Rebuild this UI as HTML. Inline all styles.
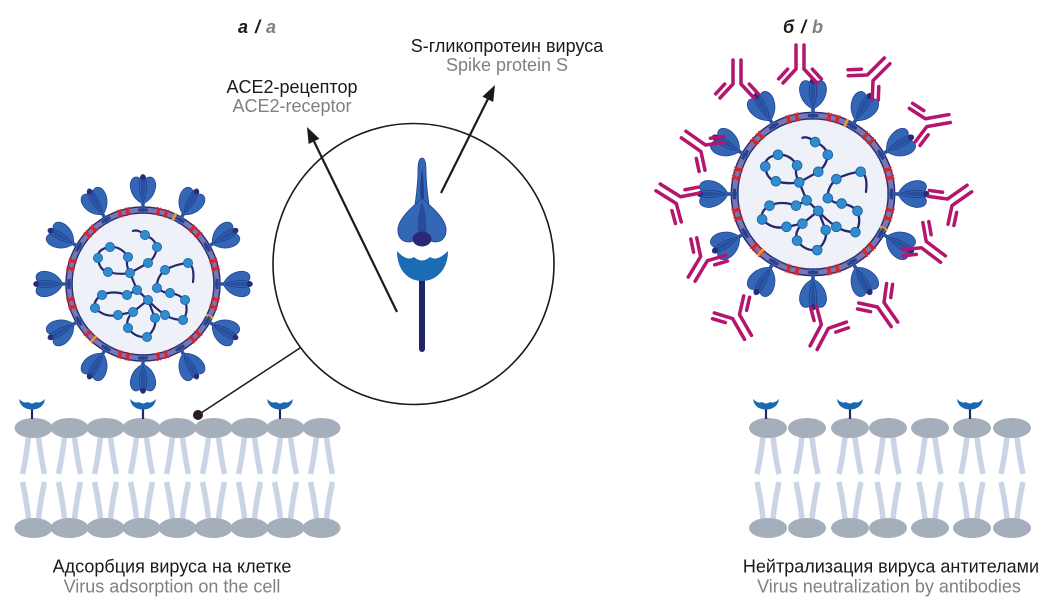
<!DOCTYPE html>
<html><head><meta charset="utf-8"><style>
html,body{margin:0;padding:0;background:#fff}
svg{display:block}
text{font-family:"Liberation Sans","Noto Sans CJK SC",sans-serif;font-size:18px}
</style></head><body>
<svg width="1053" height="603" viewBox="0 0 1053 603" xmlns="http://www.w3.org/2000/svg">
<defs>
 <g id="spike">
  <rect x="-1.7" y="-86" width="3.4" height="16" fill="#2c55a5"/>
  <path d="M-5,-74 L5,-74" stroke="#27428f" stroke-width="3"/>
  <path d="M0,-80 C-6,-83 -11,-88 -12.5,-96 C-13.5,-102 -11,-107 -7,-107 C-5,-107 -3.5,-106 -3,-105 C-2.5,-108 -1.2,-109.5 0,-109.5 C1.2,-109.5 2.5,-108 3,-105 C3.5,-106 5,-107 7,-107 C11,-107 13.5,-102 12.5,-96 C11,-88 6,-83 0,-80Z" fill="#3366b5" stroke="#22428f" stroke-width="0.7"/>
  <path d="M-3,-104 C-4,-96 -3,-88 0,-82 M3,-104 C4,-96 3,-88 0,-82" fill="none" stroke="#22428f" stroke-width="0.9"/>
  <path d="M0,-84 C-2,-90 -2.5,-98 -1.8,-104 L1.8,-104 C2.5,-98 2,-90 0,-84Z" fill="#2850a0"/>
  <ellipse cx="0" cy="-106.5" rx="3" ry="2.6" fill="#2c2a7a"/>
 </g>
 <g id="mark"><path d="M-6,-78 L-2,-70 M-2,-78 L-6,-70 M2,-78 L6,-70 M6,-78 L2,-70" stroke="#d22630" stroke-width="2.2" fill="none"/></g>
 <g id="orng"><path d="M0,-78 L0,-70" stroke="#e99a2e" stroke-width="2.6"/></g>
 <g id="virus">
  <circle r="72" fill="#eef2f8"/>
  <circle r="74" fill="none" stroke="#2b2a6c" stroke-width="7.5"/>
  <circle r="74" fill="none" stroke="#7678b6" stroke-width="4.8"/>
  <use href="#mark" transform="rotate(15)"/><use href="#mark" transform="rotate(45)"/>
  <use href="#mark" transform="rotate(75)"/><use href="#mark" transform="rotate(105)"/>
  <use href="#mark" transform="rotate(135)"/><use href="#mark" transform="rotate(165)"/>
  <use href="#mark" transform="rotate(195)"/><use href="#mark" transform="rotate(225)"/>
  <use href="#mark" transform="rotate(255)"/><use href="#mark" transform="rotate(285)"/>
  <use href="#mark" transform="rotate(315)"/><use href="#mark" transform="rotate(345)"/>
  <use href="#orng" transform="rotate(25)"/><use href="#orng" transform="rotate(116)"/><use href="#orng" transform="rotate(222)"/>
  <use href="#spike"/><use href="#spike" transform="rotate(30)"/>
  <use href="#spike" transform="rotate(60)"/><use href="#spike" transform="rotate(90)"/>
  <use href="#spike" transform="rotate(120)"/><use href="#spike" transform="rotate(150)"/>
  <use href="#spike" transform="rotate(180)"/><use href="#spike" transform="rotate(210)"/>
  <use href="#spike" transform="rotate(240)"/><use href="#spike" transform="rotate(270)"/>
  <use href="#spike" transform="rotate(300)"/><use href="#spike" transform="rotate(330)"/>
  <g fill="none" stroke="#29286e" stroke-width="2.2" stroke-linejoin="round" stroke-linecap="round">
   <path d="M-10,-53 Q-5,-55 2,-49 Q12,-45 14,-37 Q13,-27 5,-21 L-13,-11 Q-18,-20 -15,-27 Q-22,-38 -33,-37 Q-46,-35 -45,-26 Q-44,-14 -35,-12 Q-24,-9 -13,-11"/>
   <path d="M50,-2 Q52,-18 45,-21 Q33,-20 22,-14 Q13,-6 14,4 Q20,9 27,9 Q36,10 42,16 Q46,28 40,36 Q30,36 22,31 Q12,24 5,16 L-6,6 L-13,-11"/>
   <path d="M-6,6 L-16,11 Q-30,6 -41,11 Q-50,16 -48,24 Q-38,34 -25,31 L-10,28 L5,16"/>
   <path d="M-10,28 Q-18,36 -15,44 Q-8,54 4,53 Q14,44 12,34 L5,16"/>
  </g>
  <g fill="#2f8ccf" stroke="#1e5fa0" stroke-width="0.8">
   <circle cx="2" cy="-49" r="4.6"/><circle cx="14" cy="-37" r="4.6"/><circle cx="5" cy="-21" r="4.6"/>
   <circle cx="-13" cy="-11" r="4.6"/><circle cx="-15" cy="-27" r="4.6"/><circle cx="-33" cy="-37" r="4.6"/>
   <circle cx="-45" cy="-26" r="4.6"/><circle cx="-35" cy="-12" r="4.6"/><circle cx="45" cy="-21" r="4.6"/>
   <circle cx="22" cy="-14" r="4.6"/><circle cx="14" cy="4" r="4.6"/><circle cx="-6" cy="6" r="4.6"/>
   <circle cx="-16" cy="11" r="4.6"/><circle cx="-41" cy="11" r="4.6"/><circle cx="-48" cy="24" r="4.6"/>
   <circle cx="-25" cy="31" r="4.6"/><circle cx="27" cy="9" r="4.6"/><circle cx="42" cy="16" r="4.6"/>
   <circle cx="40" cy="36" r="4.6"/><circle cx="22" cy="31" r="4.6"/><circle cx="5" cy="16" r="4.6"/>
   <circle cx="-10" cy="28" r="4.6"/><circle cx="12" cy="34" r="4.6"/><circle cx="-15" cy="44" r="4.6"/>
   <circle cx="4" cy="53" r="4.6"/>
  </g>
 </g>
 <g id="ab" fill="none" stroke="#b3156f" stroke-width="3.5" stroke-linecap="round" stroke-linejoin="round">
  <path d="M-4,-20 L-4,4 L-17,18 M4,-20 L4,4 L17,18 M-12.3,4.1 L-21.4,13.9 M12.3,4.1 L21.4,13.9"/>
 </g>
 <g id="lip">
  <g fill="none" stroke="#cad4e6" stroke-width="5.5">
   <path d="M-5,437 Q-7,455 -11,474"/><path d="M5,437 Q7,455 11,474"/>
   <path d="M-11,482 Q-7,500 -5,519"/><path d="M11,482 Q7,500 5,519"/>
  </g>
  <ellipse cx="0" cy="428" rx="19" ry="10" fill="#a5aebb"/>
  <ellipse cx="0" cy="528" rx="19" ry="10" fill="#a5aebb"/>
 </g>
 <g id="rec">
  <rect x="-1.1" y="8" width="2.2" height="12" fill="#1f2a66"/>
  <path d="M-13,0 Q-8,5 -4,3 Q0,6 4,3 Q8,5 13,0 C12,7 7,10.5 0,10.5 C-7,10.5 -12,7 -13,0Z" fill="#1b67b1"/>
 </g>
</defs>

<!-- left membrane -->
<use href="#lip" x="33.5"/><use href="#lip" x="69.5"/><use href="#lip" x="105.5"/>
<use href="#lip" x="141.5"/><use href="#lip" x="177.5"/><use href="#lip" x="213.5"/>
<use href="#lip" x="249.5"/><use href="#lip" x="285.5"/><use href="#lip" x="321.5"/>
<use href="#rec" transform="translate(32,399)"/>
<use href="#rec" transform="translate(143,399)"/>
<use href="#rec" transform="translate(280,399)"/>

<!-- right membrane -->
<use href="#lip" x="768"/><use href="#lip" x="807"/><use href="#lip" x="850"/>
<use href="#lip" x="888"/><use href="#lip" x="930"/><use href="#lip" x="972"/><use href="#lip" x="1012"/>
<use href="#rec" transform="translate(766,399)"/>
<use href="#rec" transform="translate(850,399)"/>
<use href="#rec" transform="translate(970,399)"/>

<!-- viruses -->
<use href="#virus" transform="translate(143,284)"/>
<use href="#virus" transform="translate(813,194) scale(1.06)"/>

<!-- antibodies -->
<use href="#ab" transform="translate(800,65) rotate(0)"/>
<use href="#ab" transform="translate(737,80) rotate(0)"/>
<use href="#ab" transform="translate(873,75) rotate(45)"/>
<use href="#ab" transform="translate(930,122) rotate(80)"/>
<use href="#ab" transform="translate(953,200) rotate(55)"/>
<use href="#ab" transform="translate(927,247) rotate(127)"/>
<use href="#ab" transform="translate(883,308) rotate(145)"/>
<use href="#ab" transform="translate(823,330) rotate(208)"/>
<use href="#ab" transform="translate(738,320) rotate(150)"/>
<use href="#ab" transform="translate(702,262) rotate(211)"/>
<use href="#ab" transform="translate(675,198) rotate(-58)"/>
<use href="#ab" transform="translate(700,146) rotate(-55)"/>

<!-- magnifier -->
<circle cx="413.5" cy="264" r="140.5" fill="none" stroke="#1a1a1a" stroke-width="1.6"/>
<line x1="300" y1="348" x2="198" y2="415" stroke="#1a1a1a" stroke-width="1.5"/>
<circle cx="198" cy="415" r="5" fill="#2a1d1d"/>

<!-- arrows -->
<line x1="397" y1="312" x2="314" y2="141.4" stroke="#1a1a1a" stroke-width="2.2"/>
<polygon points="307,127 319.4,138.8 308.6,144" fill="#1a1a1a"/>
<line x1="441" y1="193" x2="487.8" y2="99.3" stroke="#1a1a1a" stroke-width="2.2"/>
<polygon points="495,85 493.2,102 482.4,96.6" fill="#1a1a1a"/>

<!-- big spike -->
<path d="M422,158 C419,158 418,163 418,170 C418,185 416,198 414,212 L430,212 C428,198 426,185 426,170 C426,163 425,158 422,158Z" fill="#3467b6" stroke="#22428f" stroke-width="0.8"/>
<path d="M422,168 C420,180 420,195 421,212 L424,212 C424,195 424,180 422,168Z" fill="#243d8c"/>
<path d="M422,198 C414,206 400,216 398,228 C397,237 402,242 409,242 C414,242 417,238 419,235 L425,235 C427,238 430,242 435,242 C442,242 447,237 446,228 C444,216 430,206 422,198Z" fill="#3467b6" stroke="#22428f" stroke-width="0.8"/>
<path d="M422,202 C418,212 417,224 418,234 L426,234 C427,224 426,212 422,202Z" fill="#2a4a9b"/>
<ellipse cx="422" cy="239" rx="9.5" ry="7.5" fill="#2b2878"/>

<!-- big receptor -->
<rect x="419" y="276" width="6" height="76" rx="3" fill="#1f2668"/>
<path d="M397,251 Q407,262 414,257 Q422,264 430,257 Q437,262 448,251 C448,270 436,281 422,281 C408,281 397,270 397,251Z" fill="#1c6cb4"/>

<!-- labels -->
<text x="238" y="33" font-weight="bold" font-style="italic" fill="#1a1a1a">а<tspan x="255">/</tspan><tspan x="266" fill="#808080">a</tspan></text>
<text x="783" y="33" font-weight="bold" font-style="italic" fill="#1a1a1a">б<tspan x="801">/</tspan><tspan x="812" fill="#808080">b</tspan></text>

<text x="507" y="52" text-anchor="middle" fill="#1a1a1a">S-гликопротеин вируса</text>
<text x="507" y="71" text-anchor="middle" fill="#808080">Spike protein S</text>
<text x="292" y="93" text-anchor="middle" fill="#1a1a1a">ACE2-рецептор</text>
<text x="292" y="112" text-anchor="middle" fill="#808080">ACE2-receptor</text>

<text x="172" y="572.5" text-anchor="middle" fill="#1a1a1a">Адсорбция вируса на клетке</text>
<text x="172" y="592.5" text-anchor="middle" fill="#808080">Virus adsorption on the cell</text>
<text x="891" y="572.5" text-anchor="middle" fill="#1a1a1a">Нейтрализация вируса антителами</text>
<text x="889" y="592.5" text-anchor="middle" fill="#808080">Virus neutralization by antibodies</text>
</svg>
</body></html>
